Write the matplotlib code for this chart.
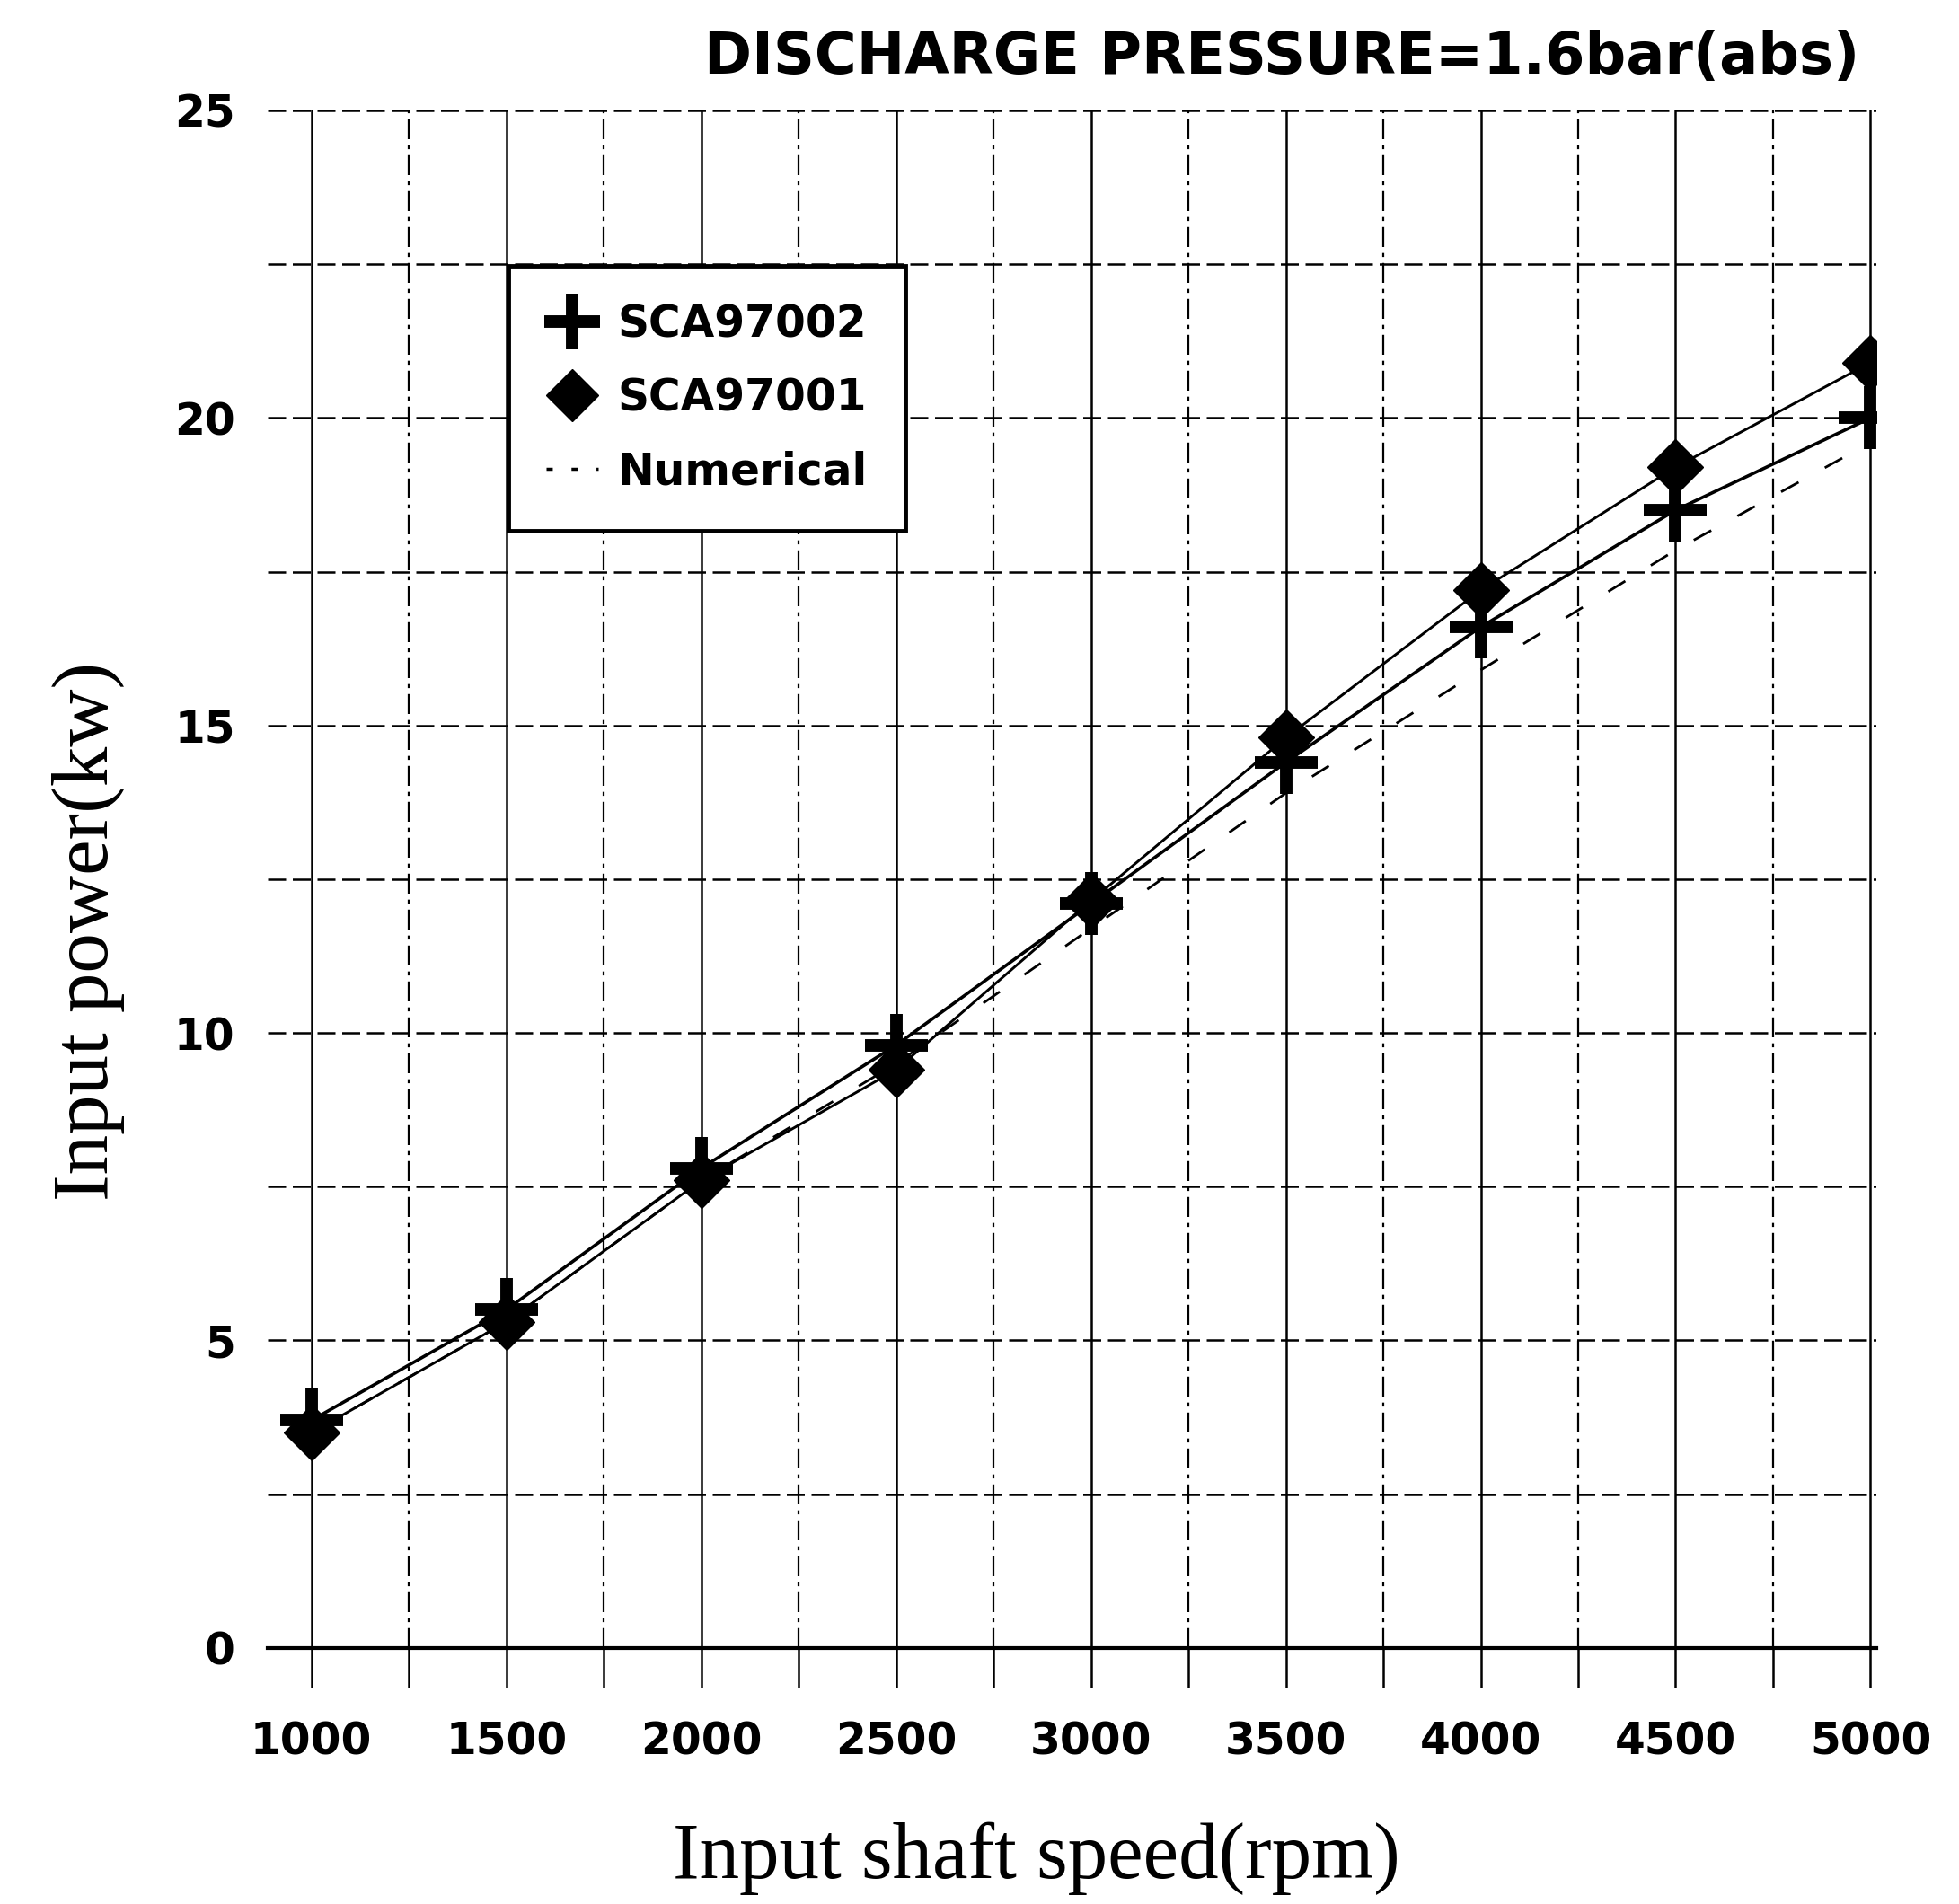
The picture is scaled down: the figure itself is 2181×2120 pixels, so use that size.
import numpy as np
import matplotlib.pyplot as plt
from matplotlib.lines import Line2D
from matplotlib.ticker import MultipleLocator

# Data
speed = [1000, 1500, 2000, 2500, 3000, 3500, 4000, 4500, 5000]
sca97002 = [3.7, 5.5, 7.8, 9.8, 12.1, 14.4, 16.6, 18.5, 20.0]
sca97001 = [3.5, 5.3, 7.6, 9.4, 12.15, 14.8, 17.2, 19.2, 20.9]
numerical = [3.5, 5.3, 7.6, 9.5, 11.7, 13.9, 15.9, 17.85, 19.6]
x_ticks = [1000, 1500, 2000, 2500, 3000, 3500, 4000, 4500, 5000]
y_ticks = [0, 5, 10, 15, 20, 25]
legend_labels = ['SCA97002', 'SCA97001', 'Numerical']

fig = plt.figure(figsize=(21.81, 21.20), dpi=100)
ax = fig.add_axes([0.1365, 0.1345, 0.8215, 0.8075])

ax.set_xlim(887, 5016)
ax.set_ylim(0, 25)

# Grid
ax.set_xticks(x_ticks)
ax.xaxis.set_minor_locator(MultipleLocator(250))
ax.set_yticks(y_ticks)
ax.yaxis.set_minor_locator(MultipleLocator(2.5))
ax.grid(which='major', axis='x', color='black', lw=1.8, ls='-')
ax.grid(which='minor', axis='x', color='black', lw=1.6, ls=(0, (10, 3, 2, 3)))
ax.grid(which='both', axis='y', color='black', lw=1.8, ls=(0, (8, 3)))
ax.set_axisbelow(True)

for side in ['left', 'top', 'right']:
    ax.spines[side].set_visible(False)
ax.spines['bottom'].set_linewidth(3)

ax.tick_params(axis='x', which='both', direction='out', length=32, width=1.8,
               pad=26, labelsize=35)
ax.tick_params(axis='y', which='both', length=0, pad=26, labelsize=35)
for lab in ax.get_xticklabels() + ax.get_yticklabels():
    lab.set_fontfamily('DejaVu Sans')
    lab.set_fontweight('bold')

# Data lines
ax.plot(speed, sca97002, color='black', lw=2.6, marker='+', ms=50, mew=10, zorder=3)
ax.plot(speed, sca97001, color='black', lw=2.1, marker='D', ms=32, zorder=3)
ax.plot(speed, numerical, color='black', lw=2.0, ls=(0, (8, 12)), zorder=2)

# Legend
handles = [Line2D([], [], color='black', ls='none', marker='+', ms=44, mew=10),
           Line2D([], [], color='black', ls='none', marker='D', ms=30),
           Line2D([], [], color='black', lw=2.5, ls=(0, (2, 6)))]
leg = ax.legend(handles, legend_labels, loc='upper left', bbox_to_anchor=(0.15, 0.899),
                frameon=True, fancybox=False, edgecolor='black', framealpha=1,
                prop=dict(family='DejaVu Sans', weight='bold', size=35),
                handlelength=1.2, handletextpad=0.45, labelspacing=0.7,
                borderpad=0.85, borderaxespad=0)
leg.get_frame().set_linewidth(3.5)

# Titles
fig.text(0.949, 0.97, 'DISCHARGE PRESSURE=1.6bar(abs)', ha='right', va='center',
         fontsize=46, fontweight='bold', family='DejaVu Sans')
fig.text(0.529, 0.024, 'Input shaft speed(rpm)', ha='center', va='center',
         fontsize=64, family='Liberation Serif')
fig.text(0.045, 0.511, 'Input power(kw)', ha='center', va='center', rotation=90,
         fontsize=64, family='Liberation Serif')

fig.savefig('out.png', dpi=100)
